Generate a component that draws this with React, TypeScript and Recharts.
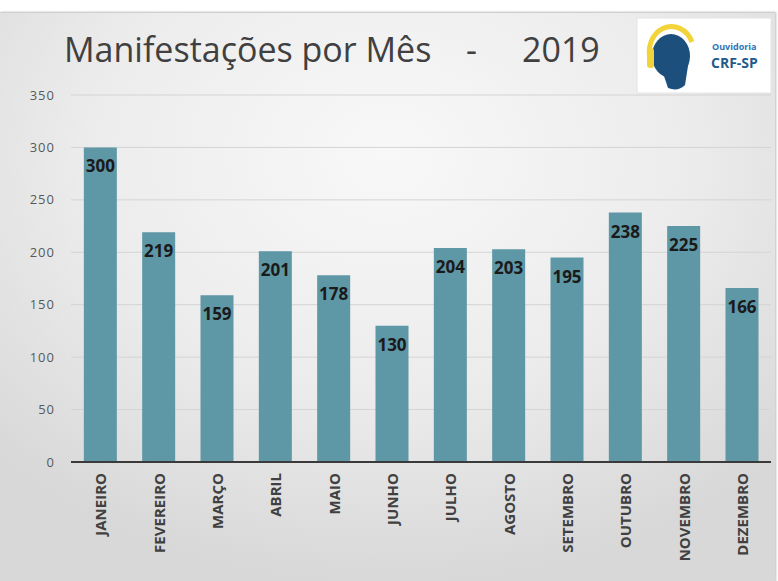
import React from 'react';
import { BarChart, Bar, XAxis, YAxis, CartesianGrid, LabelList } from 'recharts';

const months = ['JANEIRO', 'FEVEREIRO', 'MARÇO', 'ABRIL', 'MAIO', 'JUNHO', 'JULHO', 'AGOSTO', 'SETEMBRO', 'OUTUBRO', 'NOVEMBRO', 'DEZEMBRO'];
const counts = [300, 219, 159, 201, 178, 130, 204, 203, 195, 238, 225, 166];
const yTicks = [0, 50, 100, 150, 200, 250, 300, 350];

const data = months.map((m, i) => ({ month: m, value: counts[i] }));

const FONT = '"Open Sans", "Liberation Sans", sans-serif';

const MonthTick = (props: any) => {
  const { x, payload } = props;
  return (
    <g transform={`translate(${x},${473})`}>
      <text
        x={0}
        y={0}
        transform="rotate(-90)"
        textAnchor="end"
        dominantBaseline="central"
        fill="#404040"
        fontSize={15}
        fontWeight={700}
        fontFamily={FONT}
      >
        {payload.value}
      </text>
    </g>
  );
};

const Logo = () => (
  <svg width={778} height={581} style={{ position: 'absolute', left: 0, top: 0, pointerEvents: 'none' }}>
    <rect x={637} y={18} width={134} height={75} fill="#ffffff" />
    <rect x={637} y={18} width={134} height={75} fill="none" stroke="#e4e4e4" strokeWidth={1} />
    <path d="M 651 62 A 21 24 0 0 1 692 42" fill="none" stroke="#f2d43a" strokeWidth={5} />
    <ellipse cx={671} cy={56} rx={19} ry={22} fill="#1c4f7c" />
    <path d="M 662 70 L 668 88 Q 678 92 685 85 L 688 66 Z" fill="#1c4f7c" />
    <rect x={647} y={48} width={7} height={20} rx={3} fill="#f2d43a" />
    <text x={712} y={50} fontSize={9} fontWeight={700} fill="#2e75b6" fontFamily={FONT}>Ouvidoria</text>
    <text x={711} y={68} fontSize={14} fontWeight={700} fill="#1f5c8b" fontFamily={FONT}>CRF-SP</text>
  </svg>
);

export default function App() {
  return (
    <div style={{ position: 'absolute', left: 0, top: 0, width: 778, height: 581, background: '#ffffff', overflow: 'hidden' }}>
      <div
        style={{
          position: 'absolute',
          left: 0,
          top: 12,
          width: 775,
          height: 569,
          background: 'radial-gradient(ellipse 70% 75% at 50% 25%, #f8f8f8 0%, #ececec 55%, #d8d8d8 100%)',
          borderTop: '1px solid #cfcfcf',
          boxShadow: '1px 0 2px #bdbdbd',
        }}
      />
      <div style={{ position: 'absolute', left: 64, top: 26, fontFamily: FONT, fontSize: 34, fontWeight: 500, color: '#404040', whiteSpace: 'nowrap' }}>
        Manifestações por Mês
      </div>
      <div style={{ position: 'absolute', left: 466, top: 26, fontFamily: FONT, fontSize: 34, fontWeight: 500, color: '#404040' }}>-</div>
      <div style={{ position: 'absolute', left: 522, top: 26, fontFamily: FONT, fontSize: 34, fontWeight: 500, color: '#404040' }}>2019</div>
      <Logo />
      <div style={{ position: 'absolute', left: 0, top: 0 }}>
        <BarChart width={778} height={581} data={data} margin={{ top: 95, right: 7, bottom: 0, left: 0 }} barCategoryGap="22%">
          <CartesianGrid vertical={false} stroke="#d4d4d4" strokeWidth={1} />
          <XAxis
            dataKey="month"
            height={119}
            interval={0}
            tickLine={false}
            axisLine={{ stroke: '#3a3a3a', strokeWidth: 2 }}
            tick={<MonthTick />}
          />
          <YAxis
            width={71}
            domain={[0, 350]}
            ticks={yTicks}
            tickLine={false}
            axisLine={false}
            tickSize={0}
            tickMargin={16}
            tick={{ fill: '#595959', fontSize: 13, fontFamily: FONT, letterSpacing: 1 }}
          />
          <Bar dataKey="value" fill="#5e97a6" isAnimationActive={false}>
            <LabelList
              dataKey="value"
              position="insideTop"
              offset={13}
              fill="#1a1a1a"
              fontSize={17}
              fontWeight={700}
              fontFamily={FONT}
            />
          </Bar>
        </BarChart>
      </div>
    </div>
  );
}
